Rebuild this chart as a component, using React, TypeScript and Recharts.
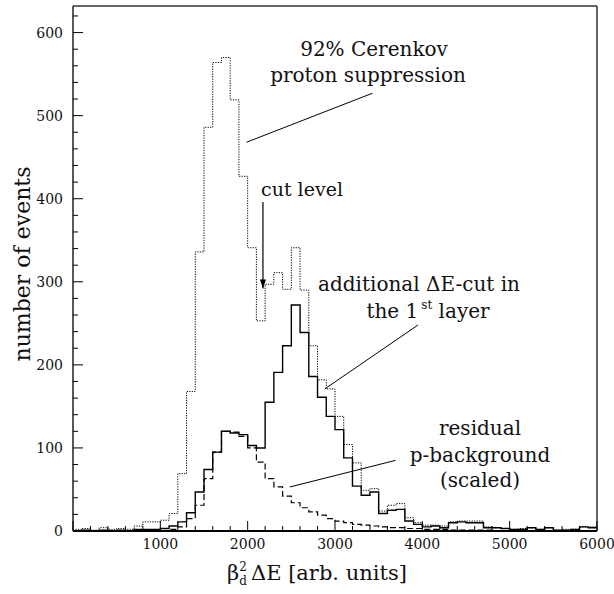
import { ComposedChart, Line, XAxis, YAxis, ReferenceLine } from "recharts"

// bin lower edges (last entry closes the final bin)
const binEdges = [
    0, 100, 200, 300, 400, 500, 600, 700, 800, 900,
    1000, 1100, 1200, 1300, 1400, 1500, 1600, 1700, 1800, 1900,
    2000, 2100, 2200, 2300, 2400, 2500, 2600, 2700, 2800, 2900,
    3000, 3100, 3200, 3300, 3400, 3500, 3600, 3700, 3800, 3900,
    4000, 4100, 4200, 4300, 4400, 4500, 4600, 4700, 4800, 4900,
    5000, 5100, 5200, 5300, 5400, 5500, 5600, 5700, 5800, 5900,
    6000,
]

// 92% Cerenkov proton suppression (dotted)
const cerenkov = [
    2, 3, 1, 4, 2, 3, 2, 6, 11, 11,
    13, 21, 69, 168, 336, 486, 564, 570, 519, 427,
    341, 253, 297, 311, 291, 341, 290, 223, 182, 171,
    138, 104, 82, 49, 51, 24, 31, 33, 16, 10,
    7, 7, 6, 11, 12, 12, 12, 5, 4, 3,
    2, 3, 4, 2, 4, 1, 2, 2, 5, 5,
]

// additional dE-cut in the 1st layer (solid)
const deltaECut = [
    0, 1, 0, 1, 0, 1, 0, 2, 2, 2,
    3, 6, 11, 22, 47, 74, 95, 120, 118, 116,
    103, 100, 155, 191, 223, 272, 239, 186, 161, 138,
    122, 88, 54, 43, 47, 21, 25, 26, 12, 8,
    5, 6, 4, 10, 11, 10, 10, 4, 4, 3,
    2, 2, 4, 2, 4, 1, 1, 2, 5, 4,
]

// residual p-background, scaled (dashed)
const background = [
    0, 0, 0, 0, 0, 0, 0, 0, 0, 0,
    0, 2, 5, 15, 31, 63, 95, 120, 119, 114,
    100, 83, 63, 53, 42, 34, 28, 23, 19, 15,
    12, 10, 8, 7, 6, 5, 4, 4, 3, 3,
    2, 2, 2, 1, 1, 1, 1, 1, 0, 0,
    0, 0, 0, 0, 0, 0, 0, 0, 0, 0,
]

const xTicks = [
    0, 200, 400, 600, 800, 1000, 1200, 1400, 1600, 1800, 2000, 2200, 2400, 2600, 2800,
    3000, 3200, 3400, 3600, 3800, 4000, 4200, 4400, 4600, 4800, 5000, 5200, 5400, 5600, 5800, 6000,
]
const yTicks = [
    0, 20, 40, 60, 80, 100, 120, 140, 160, 180, 200, 220, 240, 260, 280, 300,
    320, 340, 360, 380, 400, 420, 440, 460, 480, 500, 520, 540, 560, 580, 600, 620,
]

const last = cerenkov.length - 1
const data = binEdges.map((x, i) => ({
    x,
    cerenkov: cerenkov[Math.min(i, last)],
    cut: deltaECut[Math.min(i, last)],
    bg: background[Math.min(i, last)],
}))

const FONT = "'DejaVu Serif', serif"

const XTick = (props: any) => {
    const { x, y, payload } = props
    const major = payload.value % 1000 === 0
    return (
        <g>
            <line x1={x} x2={x} y1={y} y2={y - (major ? 10 : 5)} stroke="#000" strokeWidth={1} />
            {major && payload.value > 0 && (
                <text x={x} y={y + 18} textAnchor="middle" fontFamily={FONT} fontSize={14} fill="#111">
                    {payload.value}
                </text>
            )}
        </g>
    )
}

const YTick = (props: any) => {
    const { x, y, payload } = props
    const major = payload.value % 100 === 0
    return (
        <g>
            <line x1={x} x2={x + (major ? 10 : 5)} y1={y} y2={y} stroke="#000" strokeWidth={1} />
            {major && (
                <text x={x - 10} y={y + 5} textAnchor="end" fontFamily={FONT} fontSize={14} fill="#111">
                    {payload.value}
                </text>
            )}
        </g>
    )
}

const Arrow = (p: any) => (
    <g>
        <line x1={p.x1} y1={p.y1} x2={p.x2} y2={p.y2} stroke="#000" strokeWidth={1.2} />
        <path d={`M${p.x2},${p.y2} l-3,-9 l6,0 z`} fill="#000" />
    </g>
)

const txt = { fontFamily: FONT, fontSize: 20, fill: "#111" } as const

export default function App() {
    return (
        <div style={{ position: "absolute", left: 0, top: 0, width: 614, height: 594, background: "#fff" }}>
            <ComposedChart
                width={614}
                height={594}
                data={data}
                margin={{ top: 5, right: 16, bottom: 33, left: 33 }}
            >
                <XAxis
                    dataKey="x"
                    type="number"
                    domain={[0, 6000]}
                    ticks={xTicks}
                    interval={0}
                    height={30}
                    tickSize={0}
                    tickMargin={0}
                    tickLine={false}
                    tick={<XTick />}
                    axisLine={{ stroke: "#000", strokeWidth: 2 }}
                />
                <XAxis
                    xAxisId="top"
                    orientation="top"
                    dataKey="x"
                    type="number"
                    domain={[0, 6000]}
                    height={1}
                    tick={false}
                    tickLine={false}
                    axisLine={{ stroke: "#333", strokeWidth: 1.5 }}
                />
                <YAxis
                    type="number"
                    domain={[0, 632]}
                    ticks={yTicks}
                    interval={0}
                    width={40}
                    tickSize={0}
                    tickMargin={0}
                    tickLine={false}
                    tick={<YTick />}
                    axisLine={{ stroke: "#222", strokeWidth: 1.5 }}
                />
                <YAxis
                    yAxisId="right"
                    orientation="right"
                    type="number"
                    domain={[0, 632]}
                    width={1}
                    tick={false}
                    tickLine={false}
                    axisLine={{ stroke: "#333", strokeWidth: 1.5 }}
                />
                <Line
                    dataKey="cerenkov"
                    type="stepAfter"
                    stroke="#000"
                    strokeWidth={1}
                    strokeDasharray="1.2 1.3"
                    dot={false}
                    isAnimationActive={false}
                />
                <Line
                    dataKey="bg"
                    type="stepAfter"
                    stroke="#000"
                    strokeWidth={1.2}
                    strokeDasharray="6 3"
                    dot={false}
                    isAnimationActive={false}
                />
                <Line
                    dataKey="cut"
                    type="stepAfter"
                    stroke="#000"
                    strokeWidth={1.4}
                    dot={false}
                    isAnimationActive={false}
                />
                <ReferenceLine segment={[{ x: 1987, y: 468 }, { x: 3429, y: 527 }]} stroke="#000" strokeWidth={1} />
                <ReferenceLine segment={[{ x: 2883, y: 171 }, { x: 3951, y: 248 }]} stroke="#000" strokeWidth={1} />
                <ReferenceLine segment={[{ x: 2483, y: 53 }, { x: 3692, y: 85 }]} stroke="#000" strokeWidth={1} />
                <ReferenceLine segment={[{ x: 2175, y: 396 }, { x: 2175, y: 292 }]} shape={<Arrow />} />
            </ComposedChart>

            <svg width={614} height={594} style={{ position: "absolute", left: 0, top: 0, pointerEvents: "none" }}>
                <text {...txt} x={374} y={56} textAnchor="middle">92% Cerenkov</text>
                <text {...txt} x={368} y={82} textAnchor="middle">proton suppression</text>
                <text {...txt} fontSize={19} x={302} y={196} textAnchor="middle">cut level</text>
                <text {...txt} x={419} y={291} textAnchor="middle">additional ΔE-cut in</text>
                <text {...txt} x={428} y={318} textAnchor="middle">
                    the 1<tspan fontSize={12} dy={-9} dx={3}>st</tspan><tspan dy={9}> layer</tspan>
                </text>
                <text {...txt} x={480} y={435} textAnchor="middle">residual</text>
                <text {...txt} x={480} y={462} textAnchor="middle">p-background</text>
                <text {...txt} x={480} y={487} textAnchor="middle">(scaled)</text>
                <text {...txt} fontSize={21} x={227} y={580}>
                    β<tspan fontSize={12} dy={-9}>2</tspan><tspan fontSize={12} dx={-7.5} dy={14}>d</tspan>
                    <tspan dy={-5} dx={4}>ΔE [arb. units]</tspan>
                </text>
                <text {...txt} fontSize={22} x={30} y={264} textAnchor="middle" transform="rotate(-90 30 264)">
                    number of events
                </text>
            </svg>
        </div>
    )
}
